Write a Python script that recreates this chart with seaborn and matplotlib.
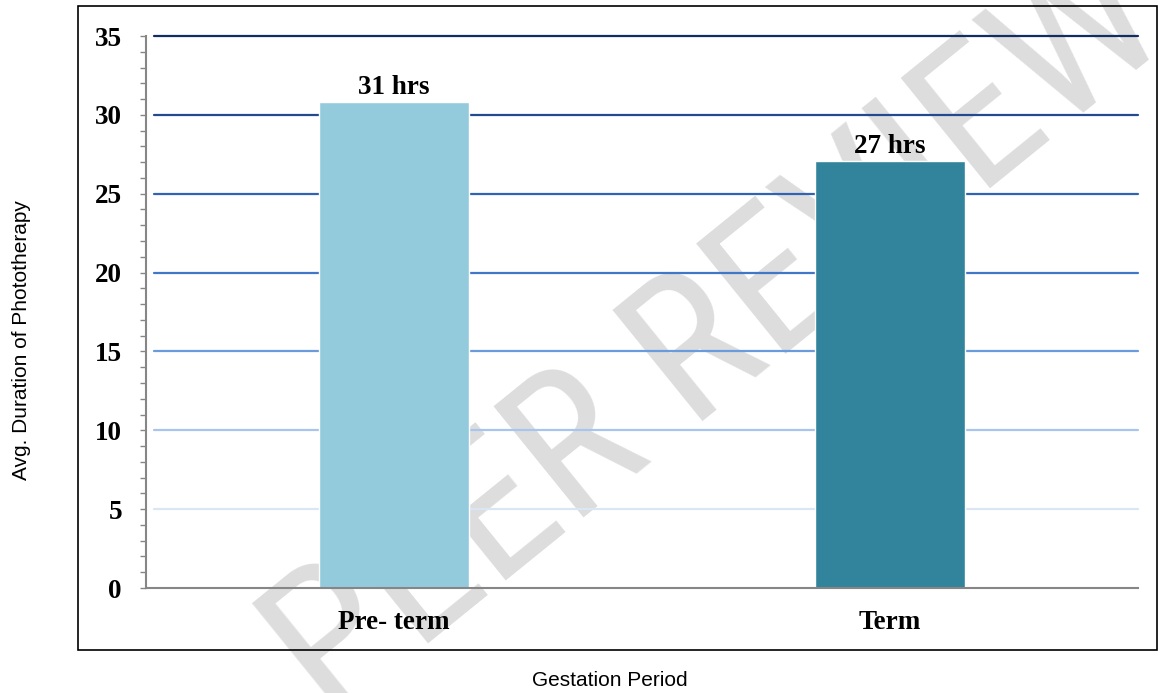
import matplotlib
matplotlib.use("Agg")
import matplotlib.pyplot as plt
import seaborn as sns
import pandas as pd
from matplotlib.ticker import MultipleLocator
from matplotlib.patches import Rectangle
from matplotlib import font_manager as fm

# ---- data ----
categories = ["Pre- term", "Term"]
durations = [30.8, 27.1]
value_labels = ["31 hrs", "27 hrs"]
bar_colors = ["#93cbdc", "#31849b"]
y_ticks = [0, 5, 10, 15, 20, 25, 30, 35]
grid_levels = [5, 10, 15, 20, 25, 30, 35]
grid_colors = ["#dbe6f5", "#a9c5eb", "#6a9bdc", "#4177c9", "#3063b4", "#23498f", "#112d62"]
x_title = "Gestation Period"
y_title = "Avg. Duration of Phototherapy"
watermark = "PEER REVIEW"

sns.set_theme(style="ticks")
plt.rcParams["font.family"] = ["Liberation Serif", "DejaVu Serif"]
plt.rcParams["text.color"] = "black"

W, H = 1164, 693
fig = plt.figure(figsize=(W / 100, H / 100), dpi=100)
fig.patch.set_facecolor("white")
ax = fig.add_axes([146 / W, 1 - 588 / H, (1138 - 146) / W, (588 - 36) / H])
ax.set_facecolor("none")

df = pd.DataFrame({"period": categories, "hours": durations})
sns.barplot(data=df, x="period", y="hours", hue="period", palette=bar_colors,
            width=0.304, saturation=1, legend=False, ax=ax, zorder=2)

ax.set_xlim(-0.5, 1.5)
ax.set_ylim(0, 35)

for lvl, c in zip(grid_levels, grid_colors):
    ax.axhline(lvl, xmin=8 / 992, xmax=1, color=c, lw=1.6, zorder=1, clip_on=False)

for i, (v, lab) in enumerate(zip(durations, value_labels)):
    ax.annotate(lab, (i, v), xytext=(0, 1.5), textcoords="offset points",
                ha="center", va="bottom", fontsize=19.5, fontweight="bold",
                color="black", zorder=4)

ax.set_yticks(y_ticks)
ax.yaxis.set_minor_locator(MultipleLocator(1))
ax.tick_params(axis="y", which="both", left=True, direction="out", length=4.3,
               width=1, color="#868686", pad=13, labelsize=19.5)
ax.tick_params(axis="x", which="both", length=0, pad=16, labelsize=19.5)
for lab in ax.get_yticklabels() + ax.get_xticklabels():
    lab.set_fontweight("bold")
    lab.set_color("black")
ax.set_xlabel("")
ax.set_ylabel("")

for s in ["top", "right"]:
    ax.spines[s].set_visible(False)
for s in ["left", "bottom"]:
    ax.spines[s].set_color("#868686")
    ax.spines[s].set_linewidth(1.5)

fig.add_artist(Rectangle((78 / W, 1 - 650 / H), (1157 - 78) / W, (650 - 6) / H,
                         transform=fig.transFigure, fill=False, edgecolor="black",
                         lw=1.2, zorder=3))

fig.text(22 / W, 1 - 340 / H, y_title, rotation=90, ha="center", va="center",
         fontsize=15, family=["Liberation Sans", "DejaVu Sans"], color="black")
fig.text(610 / W, 1 - 681 / H, x_title, ha="center", va="center",
         fontsize=15, family=["Liberation Sans", "DejaVu Sans"], color="black")

# watermark font: prefer a narrow face if installed
available = {(f.name, f.stretch) for f in fm.fontManager.ttflist}
names = {n for n, _ in available}
wm_kw = dict(family=["DejaVu Sans"], fontsize=112)
if "Roboto Condensed" in names:
    wm_kw = dict(family=["Roboto Condensed"], fontsize=145)
elif "Liberation Sans Narrow" in names:
    wm_kw = dict(family=["Liberation Sans Narrow"], fontsize=140)
elif any(n == "DejaVu Sans" and str(s) in ("condensed", "semi-condensed", "75", "87")
         for n, s in available):
    wm_kw = dict(family=["DejaVu Sans"], fontstretch="condensed", fontsize=130)

fig.text(718 / W, 1 - 338 / H, watermark, rotation=39, rotation_mode="anchor",
         ha="center", va="center", color="#dddddd", zorder=-5, **wm_kw)

fig.savefig("out.png", dpi=100)
